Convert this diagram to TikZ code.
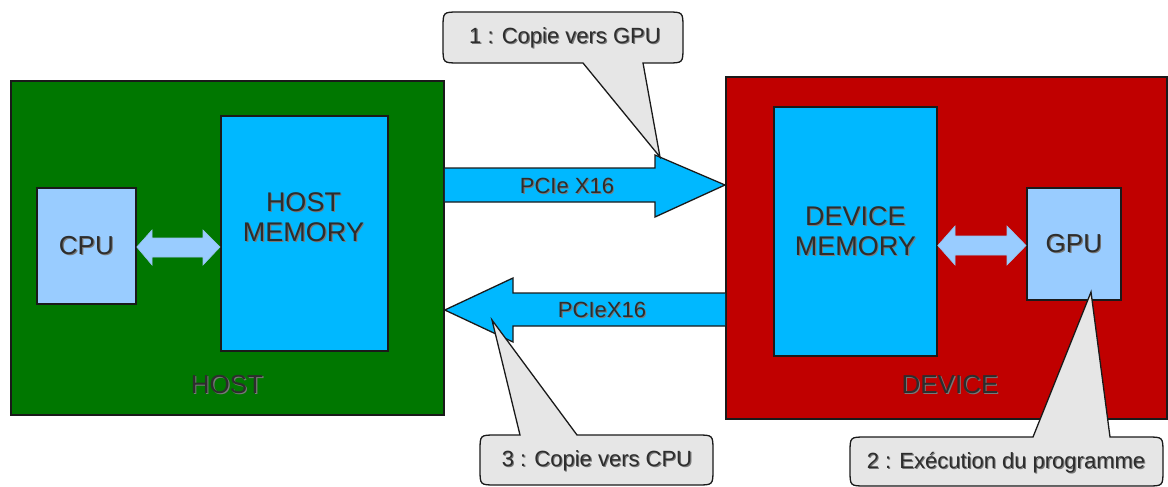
\documentclass[tikz,border=0pt]{standalone}
\usepackage{fontspec}
\setmainfont{Liberation Sans}
\definecolor{hostgreen}{RGB}{0,119,0}
\definecolor{devred}{RGB}{192,0,0}
\definecolor{memblue}{RGB}{0,184,255}
\definecolor{unitblue}{RGB}{153,204,255}
\definecolor{calloutgrey}{RGB}{230,230,230}
\definecolor{ink}{RGB}{45,45,45}
\definecolor{shade}{RGB}{120,120,120}
\definecolor{edge}{RGB}{26,26,26}
% text with a soft drop shadow
\newcommand{\shd}[1]{\rlap{\kern1.1pt\raisebox{-1.1pt}{\textcolor{shade}{#1}}}#1}

\begin{document}
\begin{tikzpicture}[x=1pt,y=-1pt,
  box/.style={draw=edge, line width=1.8pt, anchor=north west, inner sep=0pt},
  bigtxt/.style={text=ink, align=center, font=\fontsize{27}{30}\selectfont},
  midtxt/.style={text=ink, font=\fontsize{26}{30}\selectfont},
  smalltxt/.style={text=ink, font=\fontsize{22}{26}\selectfont},
  pipe/.style={fill=memblue, draw=edge, line width=1.3pt, line join=miter},
  link/.style={fill=unitblue, draw=unitblue!85!gray, line width=0.6pt},
  callout/.style={fill=calloutgrey, draw=edge, line width=1.3pt, line join=miter, miter limit=20}]
\useasboundingbox (0,0) rectangle (1168,487);

% host side
\node[box, fill=hostgreen, minimum width=433pt, minimum height=334pt] (host) at (10,80) {};
\node[box, fill=unitblue, minimum width=99pt, minimum height=116pt] (cpu) at (36,187) {};
\node[box, fill=memblue, minimum width=167pt, minimum height=235pt] (hmem) at (220,115) {};

% device side
\node[box, fill=devred, minimum width=441pt, minimum height=342pt] (dev) at (725,76) {};
\node[box, fill=memblue, minimum width=163pt, minimum height=249pt] (dmem) at (773,106) {};
\node[box, fill=unitblue, minimum width=94pt, minimum height=112pt] (gpu) at (1026,187) {};

% local links
\path[link] (cpu.east |- 0,247) -- (152,230) -- (152,238) -- (203,238) -- (203,230)
  -- (hmem.west |- 0,247) -- (203,265) -- (203,257) -- (152,257) -- (152,265) -- cycle;
\path[link] (dmem.east |- 0,245.5) -- (955,226) -- (955,236) -- (1007,236) -- (1007,226)
  -- (gpu.west |- 0,245.5) -- (1007,265) -- (1007,255) -- (955,255) -- (955,265) -- cycle;

% PCIe transfers
\path[pipe] (host.east |- 0,168) -- (655,168) -- (655,155) -- (dev.west |- 0,185)
  -- (655,217) -- (655,202) -- (host.east |- 0,202);
\path[pipe] (dev.west |- 0,293) -- (513,293) -- (513,278) -- (host.east |- 0,310)
  -- (513,342) -- (513,326) -- (dev.west |- 0,326);

% callouts: rounded box with a pointed tail
\path[callout] (583,63) -- (660,157) -- (643,63) -- (667,63) .. controls (683,63) .. (683,47)
  -- (683,28) .. controls (683,12) .. (667,12) -- (459,12) .. controls (443,12) .. (443,28)
  -- (443,47) .. controls (443,63) .. (459,63) -- cycle;
\path[callout] (1033,437) -- (1091,292) -- (1110,437) -- (1147,437) .. controls (1163,437) .. (1163,453)
  -- (1163,470) .. controls (1163,486) .. (1147,486) -- (866,486) .. controls (850,486) .. (850,470)
  -- (850,453) .. controls (850,437) .. (866,437) -- cycle;
\path[callout] (520,435) -- (492,320) -- (577,435) -- (697,435) .. controls (713,435) .. (713,451)
  -- (713,469) .. controls (713,485) .. (697,485) -- (496,485) .. controls (480,485) .. (480,469)
  -- (480,451) .. controls (480,435) .. (496,435) -- cycle;

% labels
\node[midtxt] (cputxt) at (cpu.center) {\shd{CPU}};
\node[midtxt] (gputxt) at (gpu.center) {\shd{GPU}};
\node[bigtxt] (hmemtxt) at (303.5,218) {\shd{HOST}\\\shd{MEMORY}};
\node[bigtxt] (dmemtxt) at (dmem.center) {\shd{DEVICE}\\\shd{MEMORY}};
\node[midtxt] (hosttxt) at (227,385) {\shd{HOST}};
\node[midtxt] (devtxt) at (950,385) {\shd{DEVICE}};
\node[smalltxt] (pcie1) at (567,186) {\shd{PCIe X16}};
\node[smalltxt] (pcie2) at (602,310) {\shd{PCIeX16}};
\node[smalltxt] (c1) at (565,38) {\shd{1 : Copie vers GPU}};
\node[smalltxt] (c2) at (1006,463) {\shd{2 : Exécution du programme}};
\node[smalltxt] (c3) at (597,461) {\shd{3 : Copie vers CPU}};
\end{tikzpicture}
\end{document}
